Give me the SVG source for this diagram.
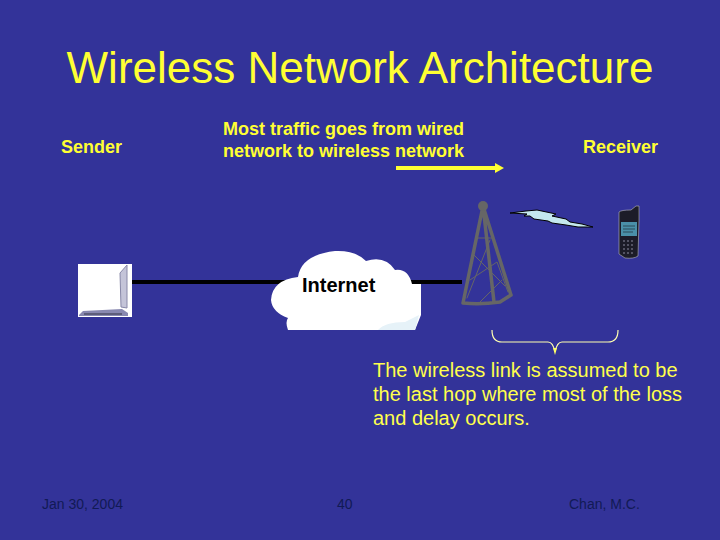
<svg xmlns="http://www.w3.org/2000/svg" width="720" height="540" viewBox="0 0 720 540">
<style>
text{font-family:"Liberation Sans",Arial,sans-serif;fill:#ffff33}
.b{font-weight:bold;font-size:18px}
.m{font-size:20px;fill:#ffff4d}
.f{font-size:14px;fill:#111a55}
.t{fill:none;stroke:#666;stroke-linejoin:round;stroke-linecap:round}
</style>
<defs><marker id="a" markerWidth="10" markerHeight="12" refX="1" refY="5" orient="auto" markerUnits="userSpaceOnUse"><path d="M0 0L9 5L0 10Z" fill="#ffff33"/></marker></defs>
<rect width="720" height="540" fill="#333399"/>
<text x="360" y="83" text-anchor="middle" font-size="44" id="title">Wireless Network Architecture</text>
<text class="b" x="61" y="153">Sender</text>
<text class="b" x="223" y="135">Most traffic goes from wired</text>
<text class="b" x="223" y="157">network to wireless network</text>
<text class="b" x="583" y="153">Receiver</text>
<g id="connectors">
<line x1="132" y1="282" x2="290" y2="282" stroke="#000" stroke-width="4"/>
<line x1="400" y1="282" x2="462" y2="282" stroke="#000" stroke-width="4"/>
<line x1="396" y1="168" x2="496" y2="168" stroke="#ffff33" stroke-width="4" marker-end="url(#a)"/>
</g>
<g id="sender"><rect x="78" y="264" width="54" height="53" fill="#fff"/>
<path d="M120 273L127 265V308L121 307Z" fill="#c4c4d8" stroke="#8888a8"/>
<path d="M79 315L83 311L122 309L128 313V316H79Z" fill="#8888b0"/>
<path d="M84 314H122" stroke="#334" stroke-width="1"/></g>
<g id="internet"><path d="M288 330Q285 322 288 318Q272 312 271 300Q272 280 298 277Q301 255 335 251Q355 250 366 261Q385 255 395 270Q408 268 412 284H421V315L415 330Z" fill="#fff"/>
<path d="M378 330Q385 322 405 322L419 315L415 330Z" fill="#e6f2f8"/>
<text x="302" y="292" style="fill:#000;font-size:20px;font-weight:bold">Internet</text></g>
<g id="tower">
<path class="t" d="M483 206L463 303M483 206L494 302M483 206L511 295M463 303Q480 305 500 302L511 295" stroke-width="3.5"/>
<path class="t" d="M478 238L492 238M470 280L497 262L508 292M474 255L505 286M490 240L467 298M480 302L502 280" stroke-width="1"/>
<circle cx="483" cy="206" r="5" fill="#666"/></g>
<g id="bolt"><path d="M510 213L526 211L537 210L556 214L552 216L566 219L570 222L582 224L593 227L578 227L566 225L552 223L548 221L534 219L530 216L524 216L527 214Z" fill="#c4e8ee" stroke="#000" stroke-width="1"/></g>
<g id="phone"><path d="M619 212Q621 210 631 210L636 206H639V220L638 256Q634 259 625 258L619 254Z" fill="#1c1c28" stroke="#bbb" stroke-width=".6"/>
<rect x="621" y="222" width="16" height="14" fill="#4a90a8"/>
<path d="M623 226H635M623 229H635M623 232H633" stroke="#2a4a58" stroke-width="1"/>
<path d="M623 241H634M623 245H634M623 249H634M623 253H634" stroke="#667" stroke-width="1.5" stroke-dasharray="2 2"/></g>
<g id="brace"><path d="M492 330Q492 342 502 342H548Q553 342 555 352Q557 342 562 342H608Q618 342 618 330" fill="none" stroke="#ffffb0" stroke-width="1.2"/>
<path d="M553 348L557 348L555 355Z" fill="#ffff66"/></g>
<text class="m" x="373" y="377">The wireless link is assumed to be</text>
<text class="m" x="373" y="401">the last hop where most of the loss</text>
<text class="m" x="373" y="425">and delay occurs.</text>
<text class="f" x="42" y="509">Jan 30, 2004</text>
<text class="f" x="337" y="509">40</text>
<text class="f" x="569" y="509">Chan, M.C.</text>
</svg>
